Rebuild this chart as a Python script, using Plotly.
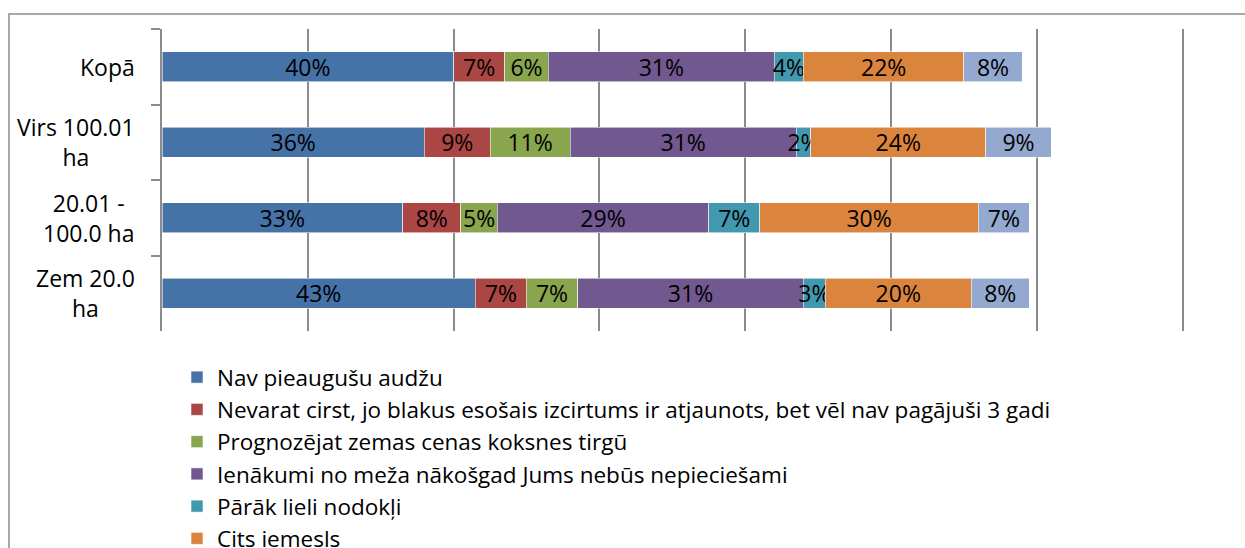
import plotly.graph_objects as go

categories = ["Kopā", "Virs 100.01<br>ha", "20.01 -<br>100.0 ha", "Zem 20.0<br>ha"]
series_names = [
    "Nav pieaugušu audžu",
    "Nevarat cirst, jo blakus esošais izcirtums ir atjaunots, bet vēl nav pagājuši 3 gadi",
    "Prognozējat zemas cenas koksnes tirgū",
    "Ienākumi no meža nākošgad Jums nebūs nepieciešami",
    "Pārāk lieli nodokļi",
    "Cits iemesls",
    "",  # seventh legend entry is cut off in the reference
]
nav_pieaugusu = [40, 36, 33, 43]
nevarat_cirst = [7, 9, 8, 7]
zemas_cenas = [6, 11, 5, 7]
ienakumi = [31, 31, 29, 31]
nodokli = [4, 2, 7, 3]
cits = [22, 24, 30, 20]
septitais = [8, 9, 7, 8]
series_values = [nav_pieaugusu, nevarat_cirst, zemas_cenas, ienakumi, nodokli, cits, septitais]
colors = ["#4572A7", "#AA4643", "#89A54E", "#71588F", "#4198AF", "#DB843D", "#93A9CF"]
x_ticks = [0, 20, 40, 60, 80, 100, 120, 140]

FONT = "Open Sans"
FS = 23
FS_LEG = 22.5
fig = go.Figure()
for i, (name, vals, col) in enumerate(zip(series_names, series_values, colors)):
    fig.add_trace(go.Bar(
        y=categories, x=vals, name=name, orientation="h",
        marker=dict(color=col, line=dict(color="rgba(255,255,255,0.7)", width=0.8)),
        text=[f"{v}%" for v in vals], textposition="inside", insidetextanchor="middle",
        textangle=0, textfont=dict(family=FONT, size=FS, color="black"),
        constraintext="none", cliponaxis=False,
        showlegend=(i < 6),
    ))

W, H = 1245, 548
L, R, T, B = 162, 1245 - 1184, 29, 548 - 331
pw, ph = W - L - R, H - T - B

def px_x(p):
    return (p - L) / pw

def px_y(p):
    return (H - B - p) / ph

annotations = []
for c in categories:
    annotations.append(dict(
        x=0, xref="paper", xshift=-25, y=c, yref="y", text=c, showarrow=False,
        xanchor="right", yanchor="middle", align="center",
        font=dict(family=FONT, size=FS, color="black"),
    ))

fig.update_layout(
    width=W, height=H,
    margin=dict(l=L, r=R, t=T, b=B, autoexpand=False),
    paper_bgcolor="white", plot_bgcolor="white",
    barmode="stack", bargap=0.603,
    uniformtext=dict(minsize=FS, mode="show"),
    font=dict(family=FONT, size=FS, color="black"),
    xaxis=dict(range=[0, 140.2], tickvals=x_ticks, showticklabels=False,
               showgrid=True, gridcolor="#8c8c8c", gridwidth=1.5,
               zeroline=False, showline=False, fixedrange=True),
    yaxis=dict(categoryorder="array", categoryarray=categories, autorange="reversed",
               showticklabels=False, showline=True, linecolor="#8c8c8c", linewidth=1.5,
               ticks="outside", tickson="boundaries", ticklen=9, tickcolor="#8c8c8c",
               tickwidth=1.5, showgrid=False, zeroline=False, fixedrange=True),
    legend=dict(x=px_x(177), y=px_y(356), xanchor="left", yanchor="top",
                orientation="v", traceorder="normal",
                font=dict(family=FONT, size=FS_LEG, color="black"),
                bgcolor="rgba(0,0,0,0)"),
    annotations=annotations,
    shapes=[dict(type="rect", xref="paper", yref="paper",
                 x0=px_x(9), x1=px_x(1260), y0=px_y(600), y1=px_y(14),
                 line=dict(color="#8c8c8c", width=1.5), layer="below")],
)

fig.write_html("out.html", config={"displayModeBar": False},
               post_script="document.body.style.margin='0';")
